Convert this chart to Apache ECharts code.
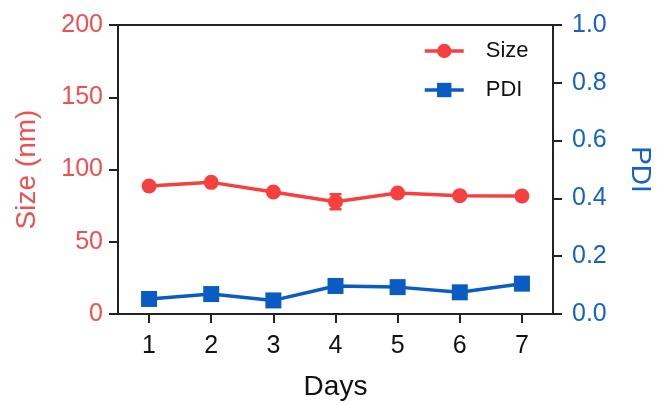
<!DOCTYPE html>
<html>
<head>
<meta charset="utf-8">
<script src="https://cdn.jsdelivr.net/npm/echarts@6/dist/echarts.min.js"></script>
<style>
  html, body { margin: 0; padding: 0; background: #fff; }
  #chart { width: 657px; height: 404px; }
</style>
</head>
<body>
<div id="chart"></div>
<script>
// data
var days = ['1', '2', '3', '4', '5', '6', '7'];
var sizeData = [88.6, 91.1, 84.4, 77.7, 83.7, 81.9, 81.7];
var sizeErr = [1.5, 1.5, 1.5, 5.2, 1.5, 1.2, 1.2];
var pdiData = [0.052, 0.069, 0.047, 0.097, 0.093, 0.075, 0.105];
var pdiErr = [0.005, 0.005, 0.005, 0.005, 0.005, 0.012, 0.005];
var sizeTicks = [0, 50, 100, 150, 200];
var pdiTicks = [0, 0.2, 0.4, 0.6, 0.8, 1.0];

var red = '#f5403f', blue = '#0a5cc2';
var redText = '#f04f4f', blueText = '#1763c4';

// 误差线
function errorSeries(vals, errs, color, yIdx) {
    var d = vals.map(function (v, i) { return [i, v - errs[i], v + errs[i]]; });
    return {
        type: 'custom',
        yAxisIndex: yIdx,
        z: 1,
        silent: true,
        data: d,
        renderItem: function (params, api) {
            var lo = api.coord([api.value(0), api.value(1)]);
            var hi = api.coord([api.value(0), api.value(2)]);
            var w = 6;
            var st = { stroke: color, lineWidth: 2.5 };
            return {
                type: 'group',
                children: [
                    { type: 'line', shape: { x1: lo[0], y1: lo[1], x2: hi[0], y2: hi[1] }, style: st },
                    { type: 'line', shape: { x1: lo[0] - w, y1: lo[1], x2: lo[0] + w, y2: lo[1] }, style: st },
                    { type: 'line', shape: { x1: hi[0] - w, y1: hi[1], x2: hi[0] + w, y2: hi[1] }, style: st }
                ]
            };
        }
    };
}

var myChart = echarts.init(document.getElementById('chart'));
var axisLine = { show: true, lineStyle: { color: '#222', width: 2 } };
var axisTick = { show: true, length: 9, lineStyle: { color: '#222', width: 2 } };
var fontFam = 'Liberation Sans, Arial, sans-serif';

var option = {
    animation: false,
    grid: {
        left: 118, right: 104, top: 25, bottom: 90,
        outerBoundsMode: 'none',
        containLabel: false,
        show: true, borderColor: '#222', borderWidth: 2
    },
    legend: {
        orient: 'vertical',
        left: 423, top: 40,
        padding: 0,
        itemWidth: 39, itemHeight: 18, itemGap: 17,
        lineStyle: { width: 3.5 },
        textStyle: { fontSize: 22, color: '#111', fontFamily: fontFam, padding: [0, 0, 0, 17] },
        data: ['Size', 'PDI']
    },
    xAxis: {
        type: 'category',
        data: days,
        boundaryGap: true,
        name: 'Days',
        nameLocation: 'middle',
        nameGap: 59,
        nameTextStyle: { fontSize: 28, color: '#111', fontFamily: fontFam },
        axisLine: axisLine,
        axisTick: { show: true, alignWithLabel: true, length: 9, lineStyle: { color: '#222', width: 2 } },
        axisLabel: { fontSize: 25, color: '#111', margin: 20, fontFamily: fontFam },
        splitLine: { show: false }
    },
    yAxis: [
        {
            type: 'value',
            min: sizeTicks[0], max: sizeTicks[sizeTicks.length - 1], interval: 50,
            name: 'Size (nm)',
            nameLocation: 'middle',
            nameGap: 77,
            nameTextStyle: { fontSize: 28, color: redText, fontFamily: fontFam },
            axisLine: axisLine,
            axisTick: axisTick,
            axisLabel: { fontSize: 25, color: redText, margin: 15, fontFamily: fontFam },
            splitLine: { show: false }
        },
        {
            type: 'value',
            position: 'right',
            min: pdiTicks[0], max: pdiTicks[pdiTicks.length - 1], interval: 0.2,
            name: 'PDI',
            nameLocation: 'middle',
            nameGap: 73,
            nameRotate: -90,
            nameTextStyle: { fontSize: 28, color: blueText, fontFamily: fontFam },
            axisLine: axisLine,
            axisTick: axisTick,
            axisLabel: {
                fontSize: 25, color: blueText, margin: 19, fontFamily: fontFam,
                formatter: function (v) { return v.toFixed(1); }
            },
            splitLine: { show: false }
        }
    ],
    series: [
        errorSeries(sizeData, sizeErr, red, 0),
        errorSeries(pdiData, pdiErr, blue, 1),
        {
            name: 'Size',
            type: 'line',
            yAxisIndex: 0,
            data: sizeData,
            symbol: 'circle',
            symbolSize: 15,
            z: 3,
            itemStyle: { color: red },
            lineStyle: { color: red, width: 3.5 }
        },
        {
            name: 'PDI',
            type: 'line',
            yAxisIndex: 1,
            data: pdiData,
            symbol: 'rect',
            symbolSize: 16,
            z: 3,
            itemStyle: { color: blue },
            lineStyle: { color: blue, width: 3.5 }
        }
    ]
};
myChart.setOption(option);
</script>
</body>
</html>
